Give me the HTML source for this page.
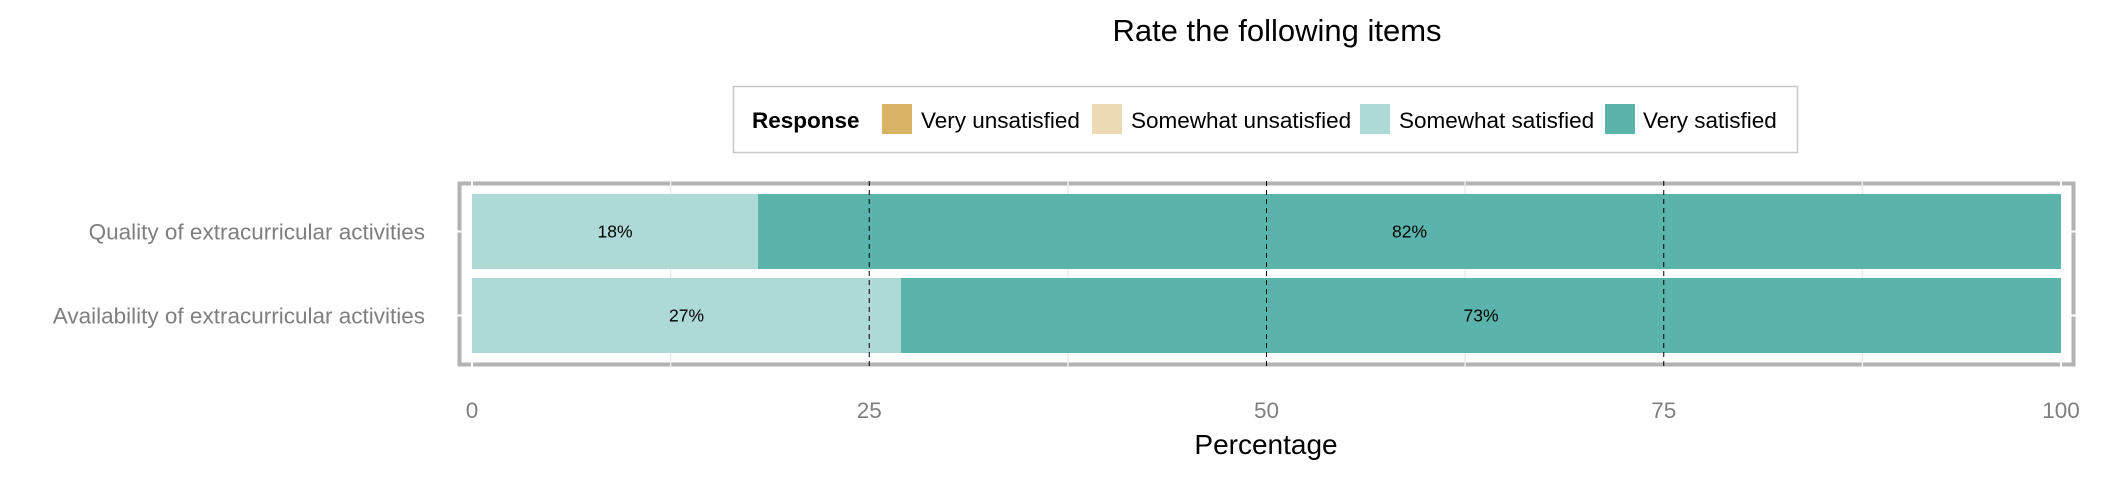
<!DOCTYPE html>
<html><head><meta charset="utf-8"><style>
body{margin:0;background:#fff;}
svg{display:block;font-family:"Liberation Sans",Arial,sans-serif;}
</style></head><body>
<svg id="chart" width="2125" height="484" xmlns="http://www.w3.org/2000/svg">
<text x="1277" y="41" font-size="31" text-anchor="middle" fill="#000">Rate the following items</text>
<g>
<rect x="733.5" y="86.5" width="1064" height="66" fill="#fff" stroke="#c8c8c8" stroke-width="1.5"/>
<text x="752" y="128" font-size="22.5" font-weight="bold">Response</text>
<rect x="882" y="104" width="30" height="30" fill="#d8b365"/>
<text x="921" y="128" font-size="22.5">Very unsatisfied</text>
<rect x="1092" y="104" width="30" height="30" fill="#ebdab3"/>
<text x="1131" y="128" font-size="22.5">Somewhat unsatisfied</text>
<rect x="1360" y="104" width="30" height="30" fill="#add9d6"/>
<text x="1399" y="128" font-size="22.5">Somewhat satisfied</text>
<rect x="1605" y="104" width="30" height="30" fill="#5ab4ac"/>
<text x="1643" y="128" font-size="22.5">Very satisfied</text>
</g>
<g id="plot"></g>
<text x="1266" y="454" font-size="28" text-anchor="middle">Percentage</text>
</svg>
<script>
const categories = ["Quality of extracurricular activities", "Availability of extracurricular activities"];
const somewhatSatisfied = [18, 27];
const verySatisfied = [82, 73];
const xTicks = [0, 25, 50, 75, 100];
const xTickLabels = ["0", "25", "50", "75", "100"];

const NS = "http://www.w3.org/2000/svg";
const g = document.getElementById("plot");
const x = v => 472 + v / 100 * 1589;
const bandTop = [194, 278], bandH = 75;
function mk(tag, attrs, parent) {
  const e = document.createElementNS(NS, tag);
  for (const k in attrs) e.setAttribute(k, attrs[k]);
  (parent || g).appendChild(e);
  return e;
}
const border = mk("rect", {x: 459.5, y: 183.5, width: 1614, height: 181, fill: "none", stroke: "#b3b3b3", "stroke-width": 4});


[12.5, 37.5, 62.5, 87.5].forEach(v => {
  const l = mk("line", {x1: x(v), x2: x(v), y1: 181, y2: 367, stroke: "#ebebeb", "stroke-width": 1.5});
  
  
});
[0, 100].forEach(v => {
  const l = mk("line", {x1: x(v), x2: x(v), y1: 180, y2: 368, stroke: "#fff", "stroke-width": 2});
  
  
});
categories.forEach((c, i) => {
  const yc = bandTop[i] + bandH / 2;
  [[455, 464], [2069, 2078]].forEach(p => {
    const l = mk("line", {x1: p[0], x2: p[1], y1: yc, y2: yc, stroke: "#fff", "stroke-width": 2});
    
    
  });
});
categories.forEach((c, i) => {
  const y0 = bandTop[i];
  const a = somewhatSatisfied[i], b = verySatisfied[i];
  const r1 = mk("rect", {x: x(0), y: y0, width: x(a) - x(0), height: bandH, fill: "#add9d6"});
  
  
  const r2 = mk("rect", {x: x(a), y: y0, width: x(a + b) - x(a), height: bandH, fill: "#5ab4ac"});
  
  
  const t1 = mk("text", {x: x(a / 2), y: y0 + bandH / 2 + 6, "font-size": 17.5, "text-anchor": "middle"});
  t1.textContent = a + "%";
  
  
  const t2 = mk("text", {x: x(a + b / 2), y: y0 + bandH / 2 + 6, "font-size": 17.5, "text-anchor": "middle"});
  t2.textContent = b + "%";
  
  
  const lab = mk("text", {x: 425, y: y0 + bandH / 2 + 8, "font-size": 22.5, "text-anchor": "end", fill: "#7f7f7f"});
  lab.textContent = c;
  
  
});
[25, 50, 75].forEach(v => {
  const l = mk("line", {x1: x(v), x2: x(v), y1: 181, y2: 368, stroke: "#000", "stroke-width": 1, "stroke-dasharray": "5,4"});
  
  
});
xTicks.forEach((v, i) => {
  const t = mk("text", {x: x(v), y: 418, "font-size": 22.5, "text-anchor": "middle", fill: "#7f7f7f"});
  t.textContent = xTickLabels[i];
  
  
});
</script>
</body></html>
